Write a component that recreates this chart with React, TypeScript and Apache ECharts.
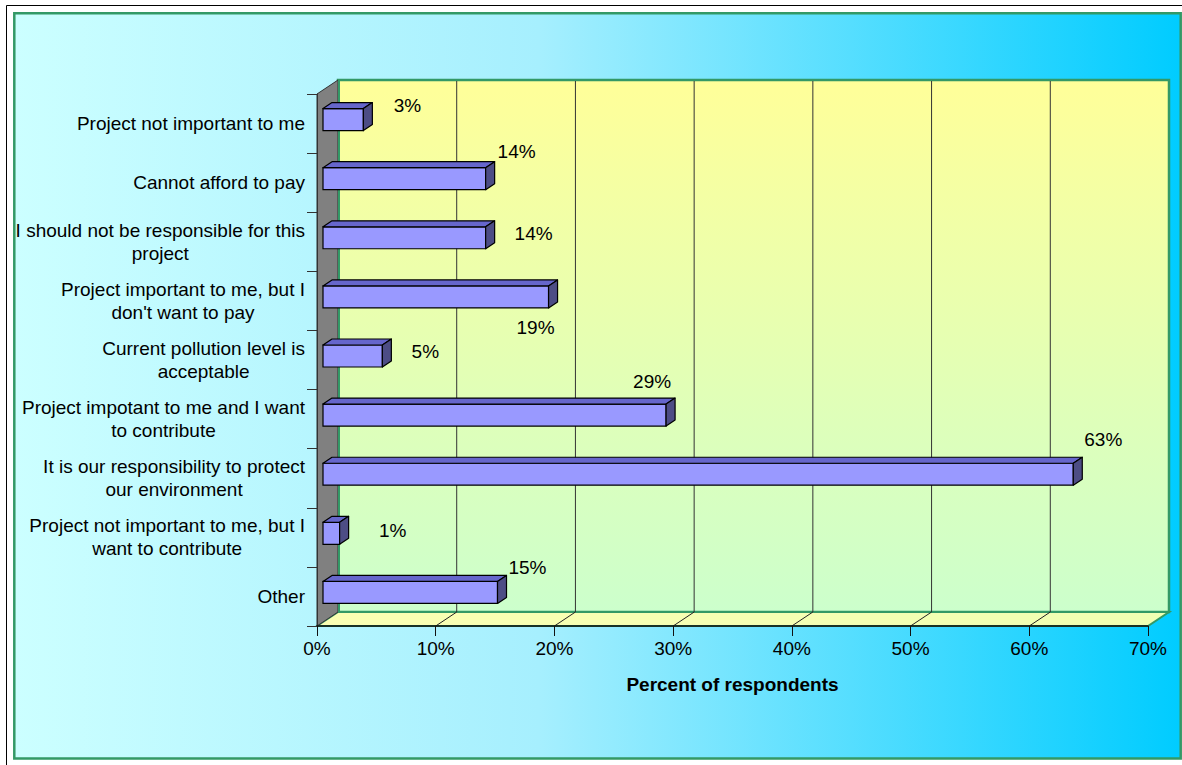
import React, { useEffect, useRef } from "react";
import * as echarts from "echarts";

// ---- data (top to bottom as shown) ----
const categories: string[] = [
  "Project not important to me",
  "Cannot afford to pay",
  "I should not be responsible for this\nproject",
  "Project important to me, but I\ndon't want to pay",
  "Current pollution level is\nacceptable",
  "Project impotant to me and I want\nto contribute",
  "It is our responsibility to protect\nour environment",
  "Project not important to me, but I\nwant to contribute",
  "Other",
];
const values: number[] = [3.4, 13.7, 13.7, 19.0, 5.0, 28.9, 63.2, 1.4, 14.7];
const xTicks: number[] = [0, 10, 20, 30, 40, 50, 60, 70];
const axisTitle = "Percent of respondents";

// label placement (offset from bar end), kept apart from the values
const labelOffsets: number[][] = [
  [44, -14], [31, -27], [48, -4], [-13, 31], [43, -5],
  [-14, -34], [30, -35], [53, -3], [30, -25],
];

const FONT = '"Liberation Sans", Arial, Helvetica, sans-serif';
const FS = 19;
const DEPTH = [21, -14];
const BAR_OFF = [6, -4];
const BAR_DEPTH = [9, -6];

let measureCtx: CanvasRenderingContext2D | null = null;
function textWidth(s: string): number {
  if (!measureCtx) {
    measureCtx = document.createElement("canvas").getContext("2d");
  }
  if (!measureCtx) return s.length * FS * 0.5;
  measureCtx.font = `${FS}px ${FONT}`;
  return measureCtx.measureText(s).width;
}

export default function App() {
  const ref = useRef<HTMLDivElement>(null);
  useEffect(() => {
    if (!ref.current) return;
    const chart = echarts.init(ref.current, undefined, { renderer: "svg" });

    const wallsSeries = {
      type: "custom",
      z: 1,
      silent: true,
      data: [[0, 0]],
      encode: { x: 0, y: 1 },
      renderItem: (params: any, api: any) => {
        const cs = params.coordSys;
        const L = cs.x, T = cs.y, R = cs.x + cs.width, B = cs.y + cs.height;
        const [dx, dy] = DEPTH;
        const children: any[] = [];
        children.push({
          type: "rect",
          shape: { x: L + dx, y: T + dy, width: cs.width, height: cs.height },
          style: {
            fill: new echarts.graphic.LinearGradient(0, 0, 0, 1, [
              { offset: 0, color: "#ffff99" },
              { offset: 1, color: "#ccffcc" },
            ]),
            stroke: "#339966",
            lineWidth: 2.5,
          },
        });
        children.push({
          type: "polygon",
          shape: { points: [[L, B], [L + dx, B + dy], [R + dx, B + dy], [R, B]] },
          style: {
            fill: new echarts.graphic.LinearGradient(0, 0, 1, 0, [
              { offset: 0, color: "#fbffb3" },
              { offset: 1, color: "#f0ffb3" },
            ]),
            stroke: "#339966",
            lineWidth: 2,
          },
        });
        children.push({
          type: "polygon",
          shape: { points: [[L, T], [L + dx, T + dy], [L + dx, B + dy], [L, B]] },
          style: { fill: "#808080", stroke: "#333333", lineWidth: 1 },
        });
        children.push({
          type: "line",
          shape: { x1: L + dx + 1, y1: T + dy, x2: L + dx + 1, y2: B + dy },
          style: { stroke: "#339966", lineWidth: 2 },
        });
        for (let i = 1; i < xTicks.length - 1; i++) {
          const x = api.coord([xTicks[i], 0])[0];
          children.push({
            type: "line",
            shape: { x1: x + dx, y1: T + dy + 1, x2: x + dx, y2: B + dy },
            style: { stroke: "#333333", lineWidth: 1 },
          });
          children.push({
            type: "line",
            shape: { x1: x, y1: B, x2: x + dx, y2: B + dy },
            style: { stroke: "#222222", lineWidth: 1 },
          });
        }
        return { type: "group", children };
      },
    };

    const barsSeries = {
      type: "custom",
      z: 2,
      silent: true,
      clip: false,
      data: values.map((v, i) => [v, i]),
      encode: { x: 0, y: 1 },
      renderItem: (params: any, api: any) => {
        const v = api.value(0);
        const idx = api.value(1);
        const p0 = api.coord([0, idx]);
        const p1 = api.coord([v, idx]);
        const band = api.size([0, 1])[1];
        const h = band * 0.372;
        const x0 = p0[0] + BAR_OFF[0];
        const x1 = p1[0] + BAR_OFF[0];
        const cy = p0[1] + BAR_OFF[1];
        const yT = cy - h / 2, yB = cy + h / 2;
        const [bx, by] = BAR_DEPTH;
        const children: any[] = [
          {
            type: "rect",
            shape: { x: x0, y: yT, width: x1 - x0, height: h },
            style: { fill: "#9999ff", stroke: "#000000", lineWidth: 1.2 },
          },
          {
            type: "polygon",
            shape: { points: [[x0, yT], [x0 + bx, yT + by], [x1 + bx, yT + by], [x1, yT]] },
            style: { fill: "#6666cc", stroke: "#000000", lineWidth: 1.2, lineJoin: "round" },
          },
          {
            type: "polygon",
            shape: { points: [[x1, yT], [x1 + bx, yT + by], [x1 + bx, yB + by], [x1, yB]] },
            style: { fill: "#4d4d85", stroke: "#000000", lineWidth: 1.2, lineJoin: "round" },
          },
        ];
        const off = labelOffsets[idx] || [30, -20];
        children.push({
          type: "text",
          style: {
            text: Math.round(v) + "%",
            x: x1 + off[0],
            y: cy + off[1],
            align: "center",
            verticalAlign: "middle",
            fontSize: FS,
            fontFamily: FONT,
            fill: "#000000",
          },
        });
        // category label (lines centred with each other, block right-aligned)
        const lines = String(categories[idx]).split("\n");
        const w = Math.max(...lines.map(textWidth));
        const right = params.coordSys.x - 12;
        const cxl = right - w / 2;
        const bandCenter = p0[1];
        const lh = 23;
        lines.forEach((ln, k) => {
          children.push({
            type: "text",
            style: {
              text: ln,
              x: cxl,
              y: bandCenter + (k - (lines.length - 1) / 2) * lh,
              align: "center",
              verticalAlign: "middle",
              fontSize: FS,
              fontFamily: FONT,
              fill: "#000000",
            },
          });
        });
        return { type: "group", children };
      },
    };

    chart.setOption({
      animation: false,
      graphic: [
        {
          type: "rect",
          z: -10,
          silent: true,
          shape: { x: 14.3, y: 13.2, width: 1166.4, height: 745.4 },
          style: {
            fill: new echarts.graphic.LinearGradient(0, 0, 1, 0, [
              { offset: 0, color: "#ccffff" },
              { offset: 0.45, color: "#a6effe" },
              { offset: 1, color: "#00ccff" },
            ]),
            stroke: "#339966",
            lineWidth: 2.5,
          },
        },
        {
          type: "polyline",
          z: -10,
          silent: true,
          shape: { points: [[6.5, 765], [6.5, 5.5], [1182, 5.5]] },
          style: { stroke: "#000000", lineWidth: 1, fill: "none" },
        },
      ],
      grid: { left: 317, top: 94, width: 831, height: 532, containLabel: false },
      xAxis: {
        type: "value",
        min: 0,
        max: 70,
        interval: 10,
        z: 10,
        axisLine: { show: true, onZero: false, lineStyle: { color: "#111111", width: 1.5 } },
        axisTick: { show: true, length: 10, lineStyle: { color: "#111111" } },
        splitLine: { show: false },
        axisLabel: {
          formatter: "{value}%",
          fontSize: FS,
          fontFamily: FONT,
          color: "#000000",
          margin: 13,
        },
        name: axisTitle,
        nameLocation: "middle",
        nameGap: 49,
        nameTextStyle: { fontSize: FS, fontWeight: "bold", fontFamily: FONT, color: "#000000" },
      },
      yAxis: {
        type: "category",
        inverse: true,
        data: categories,
        z: 10,
        axisLine: { show: true, onZero: false, lineStyle: { color: "#333333" } },
        axisTick: { show: true, length: 10, lineStyle: { color: "#333333" } },
        axisLabel: { show: false },
        splitLine: { show: false },
      },
      series: [wallsSeries, barsSeries],
    } as any);

    return () => chart.dispose();
  }, []);

  return (
    <div
      ref={ref}
      style={{ position: "fixed", left: 0, top: 0, width: 1182, height: 765, background: "#ffffff" }}
    />
  );
}
